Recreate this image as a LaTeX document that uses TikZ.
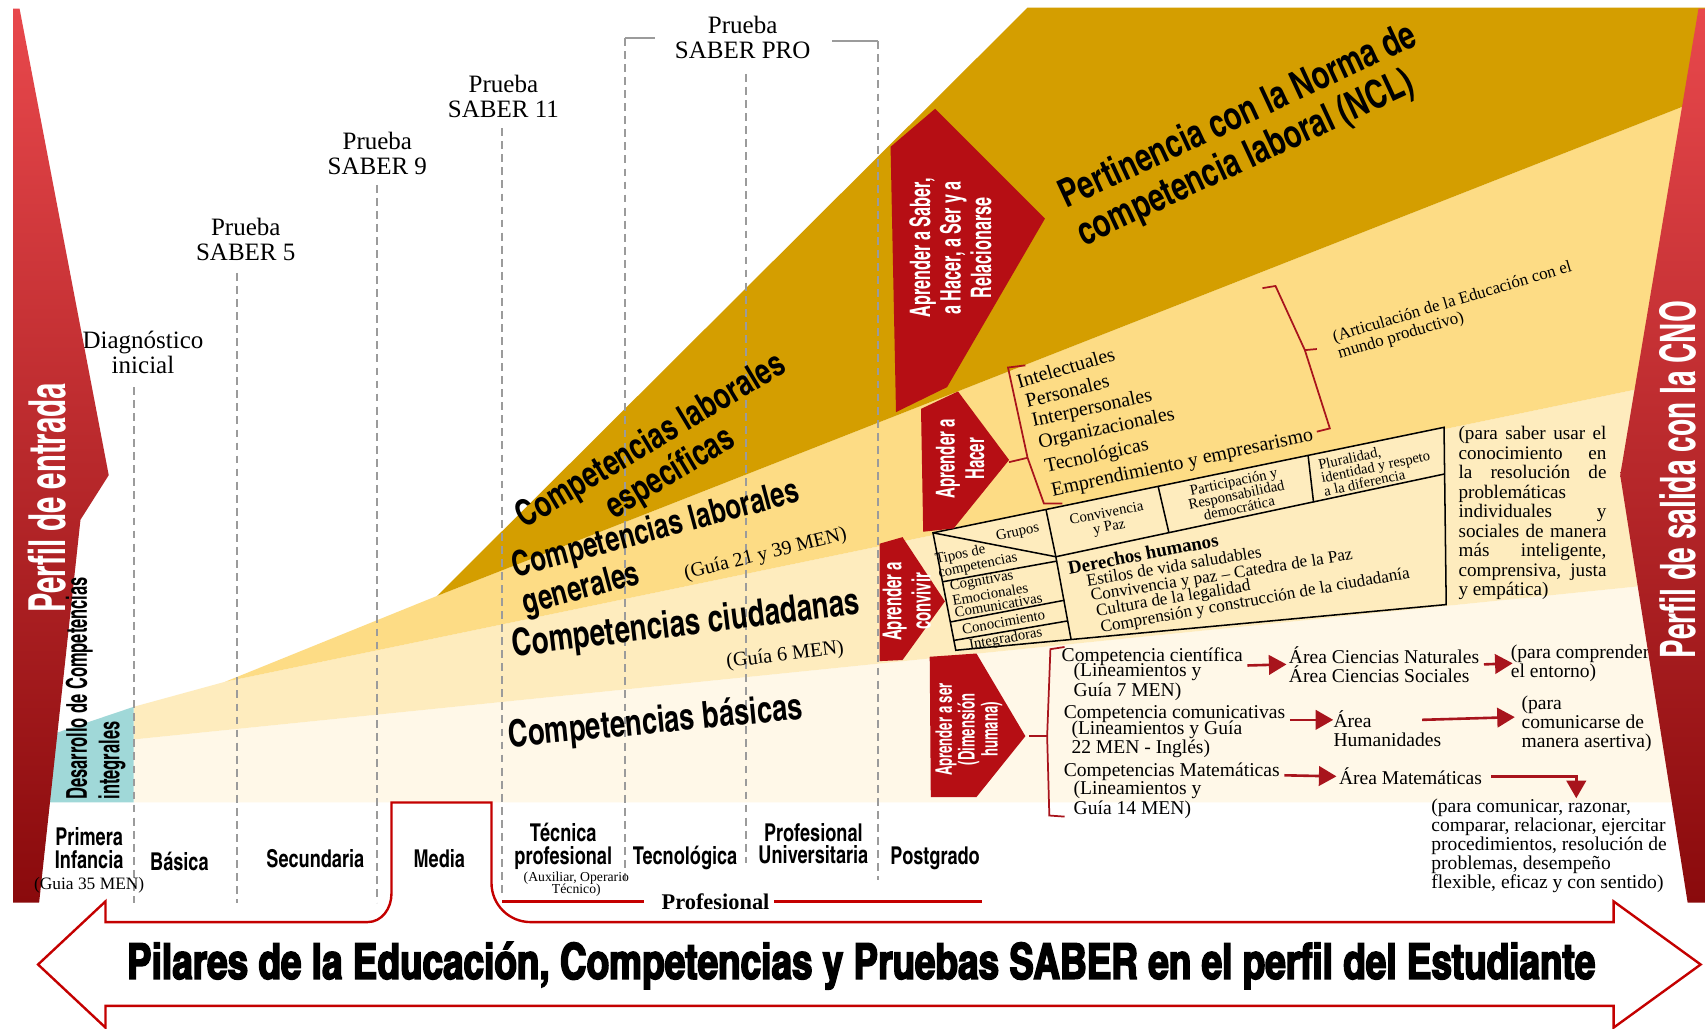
\documentclass[tikz,border=0pt]{standalone}
\usepackage{fontspec}
\usepackage{graphicx}
\setmainfont{Liberation Serif}
\newfontfamily\condfont{texgyreheroscn-bold.otf}[FakeStretch=0.9]
\newfontfamily\narrowfont{texgyreheroscn-bold.otf}[FakeStretch=0.7]
\newfontfamily\heavyfont{texgyreheroscn-bold.otf}[FakeBold=3,FakeStretch=0.85]
\usetikzlibrary{positioning,arrows}

\definecolor{especifica}{RGB}{212,158,0}
\definecolor{general}{RGB}{253,220,133}
\definecolor{ciudadana}{RGB}{254,236,190}
\definecolor{basica}{RGB}{255,248,232}
\definecolor{integral}{RGB}{160,216,216}
\definecolor{pilar}{RGB}{182,14,20}
\definecolor{perfilalto}{RGB}{232,72,76}
\definecolor{perfilbajo}{RGB}{138,10,12}
\definecolor{guia}{RGB}{155,155,155}
\definecolor{llave}{RGB}{168,20,28}
\definecolor{borde}{RGB}{196,0,0}

\begin{document}
\begin{tikzpicture}[x=0.5pt,y=-0.5pt]
\tikzstyle{prueba}=[align=center,inner sep=0pt,font=\fontsize{11.5}{11.7}\selectfont]
\tikzstyle{nivel}=[align=center,inner sep=0pt,font=\condfont\fontsize{11.3}{10.5}\selectfont]
\tikzstyle{guideline}=[draw=guia,line width=0.9pt,dash pattern=on 3.6pt off 2.4pt]
\tikzstyle{proline}=[draw=guia,line width=0.9pt]
\tikzstyle{banda}=[align=center,inner sep=0pt,font=\condfont\fontsize{17}{17.6}\selectfont]
\tikzstyle{pillarbox}=[fill=pilar]
\tikzstyle{pillartext}=[white,align=center,rotate=90,inner sep=0pt]
\tikzstyle{perfiltext}=[white,rotate=90,inner sep=0pt]
\tikzstyle{llavepath}=[draw=llave,line width=0.8pt]
\tikzstyle{flecha}=[draw=llave,line width=1.2pt,->,>=triangle 60]
\tikzstyle{nota}=[inner sep=0pt,align=left,font=\fontsize{9}{8.8}\selectfont]
\tikzstyle{celda}=[inner sep=0pt,align=center,font=\fontsize{6.8}{6.4}\selectfont]
\tikzstyle{fila}=[inner sep=0pt,anchor=west,font=\fontsize{7.9}{8}\selectfont]
\tikzstyle{tabla}=[draw=black,line width=0.7pt]
\tikzstyle{lista}=[inner sep=0pt,anchor=west,font=\fontsize{9.2}{9.2}\selectfont]
\tikzstyle{contorno}=[draw=borde,line width=1.1pt]

\useasboundingbox (0,0) rectangle (1568,946);
\fill[white] (0,0) rectangle (1568,946);

% bandas de competencias
\fill[basica] (123,680) -- (1568,533) -- (1568,738) -- (123,738) -- cycle;
\fill[ciudadana] (123,650) -- (207,627) -- (1568,345) -- (1568,533) -- (123,680) -- cycle;
\fill[general] (207,627) -- (402,548) -- (1568,90) -- (1568,345) -- cycle;
\fill[especifica] (402,548) -- (945,7) -- (1568,7) -- (1568,90) -- cycle;
\fill[integral] (123,650) -- (123,738) -- (40,738) -- (40,678) -- cycle;

% pruebas
\coordinate (floor) at (0,830);
\coordinate (diagtop) at (123,356);
\coordinate (s5top) at (218,251);
\coordinate (s9top) at (346.5,170);
\coordinate (s11top) at (461.6,118);
\coordinate (proL) at (575,35);
\coordinate (proM) at (686,68);
\coordinate (proR) at (807.5,38);
\draw[guideline] (diagtop) -- (diagtop |- floor);
\draw[guideline] (s5top) -- (s5top |- floor);
\draw[guideline] (s9top) -- (s9top |- floor);
\draw[guideline] (s11top) -- ++(0,704);
\draw[guideline] (proL) -- ++(0,774);
\draw[guideline] (proM) -- ++(0,726);
\draw[guideline] (proR) -- ++(0,771);
\draw[proline] (proL) -- ++(27,0);
\draw[proline] (proR) -- ++(-42,0);

\node[prueba] (diag) at (131.5,324) {Diagnóstico\\inicial};
\node[prueba] (saber5) at (226,220) {Prueba\\SABER 5};
\node[prueba] (saber9) at (347,141) {Prueba\\SABER 9};
\node[prueba] (saber11) at (463,88.5) {Prueba\\SABER 11};
\node[prueba] (saberpro) at (683,34.5) {Prueba\\SABER PRO};

% niveles
\node[nivel] (infancia) at (82,780) {Primera\\Infancia};
\node[nivel] (basica) at (165,792) {Básica};
\node[nivel] (secundaria) at (290,790) {Secundaria};
\node[nivel] (media) at (404,790) {Media};
\node[nivel] (tecnica) at (518,778) {Técnica\\profesional};
\node[inner sep=0pt,align=center,font=\fontsize{6.3}{5.8}\selectfont] (auxiliar) at (530,813) {(Auxiliar, Operario\\Técnico)};
\node[nivel] (tecnologica) at (630,789) {Tecnológica};
\node[nivel] (universitaria) at (748,776) {Profesional\\Universitaria};
\node[nivel] (postgrado) at (860,789) {Postgrado};
\node[inner sep=0pt,font=\bfseries\fontsize{10.3}{10.3}\selectfont] (profesional) at (658,829) {Profesional};
\coordinate (profL) at (462,829);
\coordinate (profR) at (903,829);
\draw[contorno] ([xshift=-8pt]profesional.west) -- (profL);
\draw[contorno] ([xshift=2pt]profesional.east) -- (profR);

% textos de las bandas
\node[banda,rotate=31,font=\condfont\fontsize{16.6}{17.2}\selectfont] (especificas) at (608,421) {Competencias laborales\\específicas};
\node[banda,rotate=15,align=left,font=\condfont\fontsize{16}{17.5}\selectfont] (generales) at (608,505) {Competencias laborales\\generales};
\node[inner sep=0pt,rotate=14,font=\fontsize{9.2}{9.2}\selectfont] (guia2139) at (704,510) {(Guía 21 y 39 MEN)};
\node[banda,rotate=7,font=\condfont\fontsize{17.3}{18}\selectfont] (ciudadanas) at (631,575) {Competencias ciudadanas};
\node[inner sep=0pt,rotate=7,font=\fontsize{9.3}{9.3}\selectfont] (guia6) at (722,603) {(Guía 6 MEN)};
\node[banda,rotate=5.5,font=\condfont\fontsize{17.1}{18}\selectfont] (basicas) at (603,665) {Competencias básicas};
\node[banda,rotate=25,align=left,font=\condfont\fontsize{18}{19}\selectfont] (ncl) at (1147,125) {Pertinencia con la Norma de\\competencia laboral (NCL)};

% competencias laborales generales
\node[lista,rotate=16] (intelectuales) at (935,351) {Intelectuales};
\node[lista,rotate=14] (personales) at (943,369) {Personales};
\node[lista,rotate=12] (interpersonales) at (949,388) {Interpersonales};
\node[lista,rotate=12] (organizacionales) at (955,408) {Organizacionales};
\node[lista,rotate=12] (tecnologicas) at (961,430) {Tecnológicas};
\node[lista,rotate=12] (emprendimiento) at (967,452) {Emprendimiento y empresarismo};
\draw[llavepath] (943,336) -- (927,338) -- (945,421) -- (960,463) -- (977,463);
\draw[llavepath] (945,421) -- (928,425);
\draw[llavepath] (1161,265) -- (1173,263) -- (1200,322) -- (1223,394) -- (1211,397);
\draw[llavepath] (1200,322) -- (1211,321);
\node[inner sep=0pt,align=left,rotate=16.6,font=\fontsize{7.8}{8}\selectfont] (articulacion) at (1338,286) {(Articulación de la Educación con el\\mundo productivo)};

% tabla de competencias ciudadanas
\coordinate (tTL) at (858,490);
\coordinate (tTR) at (1328,393);
\coordinate (tBR) at (1330,556);
\coordinate (tBL) at (879,598);
\coordinate (dA) at (962,469);
\coordinate (dB) at (971,512);
\coordinate (dC) at (985,588);
\coordinate (h1t) at (1065,447);
\coordinate (h1b) at (1075,490);
\coordinate (h2t) at (1203,419);
\coordinate (h2b) at (1208,462);
\coordinate (hR) at (1328,436);
\filldraw[fill=ciudadana,tabla] (tTL) -- (tTR) -- (tBR) -- (tBL) -- cycle;
\draw[tabla] (dA) -- (dB) -- (dC);
\draw[tabla] (tTL) -- (dB) -- (hR);
\draw[tabla] (h1t) -- (h1b);
\draw[tabla] (h2t) -- (h2b);
\draw[tabla] (867,535) -- (972,516);
\draw[tabla] (874,572) -- (979,552);
\draw[tabla] (877,589) -- (982,571);

\node[celda,rotate=12] (grupos) at (936,490) {Grupos};
\node[celda,rotate=12,align=left] (tipos) at (898,514) {Tipos de\\competencias};
\node[celda,rotate=10,align=left,font=\fontsize{6.8}{5.6}\selectfont] (cognitivas) at (916,544) {Cognitivas\\Emocionales\\Comunicativas};
\node[celda,rotate=10] (conocimiento) at (923,572) {Conocimiento};
\node[celda,rotate=10] (integradoras) at (925,588) {Integradoras};
\node[celda,rotate=11] (convivencia) at (1019,479) {Convivencia\\y Paz};
\node[celda,rotate=12,font=\fontsize{6.8}{6.2}\selectfont] (participacion) at (1137,455) {Participación y\\Responsabilidad\\democrática};
\node[celda,rotate=12,align=left,font=\fontsize{6.7}{6.2}\selectfont] (pluralidad) at (1265,429) {Pluralidad,\\identidad y respeto\\a la diferencia};
\node[fila,rotate=11,font=\bfseries\fontsize{8.7}{8.7}\selectfont] (derechos) at (982,523) {Derechos humanos};
\node[fila,rotate=9.5] (estilos) at (999,534) {Estilos de vida saludables};
\node[fila,rotate=9] (paz) at (1003,549) {Convivencia y paz -- Catedra de la Paz};
\node[fila,rotate=9.5] (legalidad) at (1008,563) {Cultura de la legalidad};
\node[fila,rotate=10] (ciudadania) at (1012,578) {Comprensión y construcción de la ciudadanía};

\node[nota,anchor=north west,font=\fontsize{8.8}{8.95}\selectfont] (usar) at (1341,392) {\makebox[68pt][s]{(para saber usar el}\\\makebox[68pt][s]{conocimiento en}\\\makebox[68pt][s]{la resolución de}\\problemáticas\\\makebox[68pt][s]{individuales y}\\\makebox[68pt][s]{sociales de manera}\\\makebox[68pt][s]{más inteligente,}\\\makebox[68pt][s]{comprensiva, justa}\\y empática)};

% competencias basicas
\node[nota,anchor=west] (cienc) at (976,604) {Competencia científica};
\node[nota,anchor=west] (ciencref) at (987,627) {(Lineamientos y\\Guía 7 MEN)};
\node[nota,anchor=west] (comunic) at (978,657) {Competencia comunicativas};
\node[nota,anchor=west] (comunicref) at (985,680) {(Lineamientos y Guía\\22 MEN - Inglés)};
\node[nota,anchor=west] (matem) at (978,710) {Competencias Matemáticas};
\node[nota,anchor=west] (matemref) at (987,735.5) {(Lineamientos y\\Guía 14 MEN)};
\node[nota,anchor=west] (areacn) at (1185,611) {Área Ciencias Naturales\\Área Ciencias Sociales};
\node[nota,anchor=west] (comprender) at (1389,610) {(para comprender\\el entorno)};
\node[nota,anchor=west] (areahum) at (1226,670) {Área\\Humanidades};
\node[nota,anchor=west] (asertiva) at (1399,665.5) {(para\\comunicarse de\\manera asertiva)};
\node[nota,anchor=west] (areamat) at (1231,714) {Área Matemáticas};
\node[nota,anchor=north west] (razonar) at (1316,734) {(para comunicar, razonar,\\comparar, relacionar, ejercitar\\procedimientos, resolución de\\problemas, desempeño\\flexible, eficaz y con sentido)};
\draw[flecha] ([xshift=2pt,yshift=-4pt]cienc.east) -- ([xshift=-1pt]areacn.west);
\draw[flecha] ([xshift=2pt]areacn.east) -- ([xshift=1pt]comprender.west);
\draw[flecha] ([xshift=2pt,yshift=-2.5pt]comunic.east) -- ([yshift=4pt]areahum.west);
\draw[flecha] ([xshift=-9pt,yshift=4pt]areahum.east) -- ([xshift=-3pt,yshift=3pt]asertiva.west);
\draw[flecha] ([xshift=2pt,yshift=-1.5pt]matem.east) -- ([xshift=-1pt]areamat.west);
\draw[flecha] ([xshift=4pt]areamat.east) -| ([xshift=12.5pt]razonar.north);
\draw[llavepath] (979,595) -- (966,597) -- (963,677) -- (965,750) -- (979,751);
\draw[llavepath] (963,677) -- (946,677);

% pilares de la educacion
\fill[pillarbox] (819,135) -- (860,100) -- (961,201) -- (871,356) -- (824,379) -- cycle;
\fill[pillarbox] (847,376) -- (881,360) -- (928,423) -- (877,486) -- (849,489) -- cycle;
\fill[pillarbox] (809,500) -- (830,494) -- (869,553) -- (830,607) -- (809,608) -- cycle;
\fill[pillarbox] (855,604) -- (898,601) -- (943,677) -- (898,733) -- (856,733) -- cycle;
\node[pillartext,font=\narrowfont\fontsize{13}{14}\selectfont] (saber) at (874,228) {Aprender a Saber,\\a Hacer, a Ser y a\\Relacionarse};
\node[pillartext,font=\narrowfont\fontsize{12}{13.5}\selectfont] (hacer) at (883,422) {Aprender a\\Hacer};
\node[pillartext,font=\narrowfont\fontsize{12}{13.5}\selectfont] (convivir) at (834,553) {Aprender a\\convivir};
\node[pillartext,font=\narrowfont\fontsize{10.5}{10.5}\selectfont] (ser) at (891,671) {Aprender a ser\\(Dimensión\\humana)};

% perfiles
\shade[top color=perfilalto,middle color=pilar,bottom color=perfilbajo] (12,8) -- (18,8) -- (100,437) -- (74,478) -- (36,830) -- (12,830) -- cycle;
\shade[top color=perfilalto,middle color=pilar,bottom color=perfilbajo] (1562,8) -- (1568,8) -- (1568,830) -- (1552,830) -- (1490,437) -- cycle;
\node[perfiltext,font=\narrowfont\fontsize{23.5}{23.5}\selectfont] (entrada) at (43,458) {Perfil de entrada};
\node[perfiltext,font=\narrowfont\fontsize{22.5}{22.5}\selectfont] (salida) at (1543,441) {Perfil de salida con la CNO};
\node[rotate=90,align=left,inner sep=0pt,font=\narrowfont\fontsize{13.2}{15}\selectfont] (desarrollo) at (88,633) {Desarrollo de Competencias\\integrales};
\node[inner sep=0pt,font=\fontsize{8}{8}\selectfont] (guia35) at (82,814) {(Guia 35 MEN)};

% flecha inferior
\draw[contorno] (97,945) -- (35,887) -- (97,829) -- (97,848) -- (338,848) to[out=0,in=-90] (360,822) -- (360,738) -- (452,738) -- (452,812) to[out=-90,in=180] (488,848) -- (1484,848) -- (1484,829) -- (1564,887) -- (1484,945) -- (1484,925) -- (97,925) -- cycle;
\node[inner sep=0pt] (titulo) at (792,888) {\heavyfont\resizebox{675pt}{17pt}{Pilares de la Educación, Competencias y Pruebas SABER en el perfil del Estudiante}};
\end{tikzpicture}
\end{document}
